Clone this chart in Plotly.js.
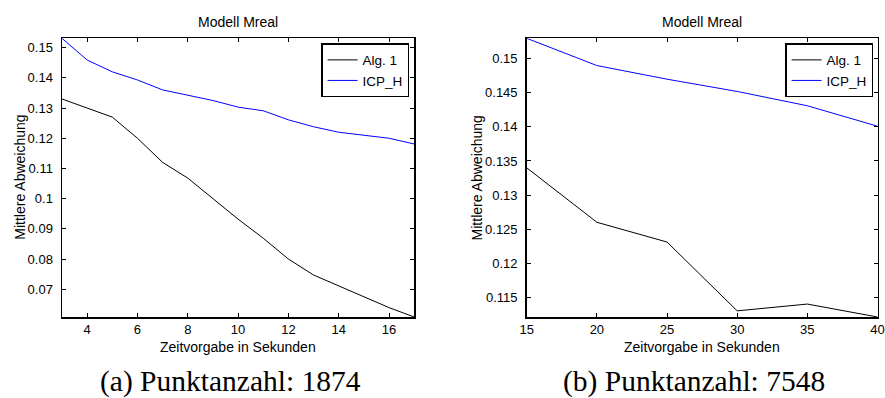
<!DOCTYPE html>
<html>
<head>
<meta charset="utf-8">
<script src="https://cdn.plot.ly/plotly-3.0.1.min.js"></script>
<style>html,body{margin:0;padding:0;background:#fff;}#chart{width:885px;height:398px;}</style>
</head>
<body>
<div id="chart"></div>
<script>
// (a) Punktanzahl: 1874
const xA = [3, 4, 5, 6, 7, 8, 9, 10, 11, 12, 13, 14, 15, 16, 17];
const algA = [0.133, 0.130, 0.127, 0.120, 0.112, 0.1068, 0.0999, 0.0932, 0.0869, 0.0800, 0.0747, 0.0711, 0.0674, 0.0639, 0.0608];
const icpA = [0.1531, 0.1459, 0.1420, 0.1393, 0.1360, 0.1342, 0.1325, 0.1303, 0.1291, 0.1261, 0.1238, 0.1220, 0.1211, 0.1200, 0.1181];
// (b) Punktanzahl: 7548
const xB = [15, 20, 25, 30, 35, 40];
const algB = [0.1340, 0.1260, 0.1231, 0.1130, 0.1140, 0.1121];
const icpB = [0.1530, 0.1490, 0.1470, 0.1452, 0.1431, 0.1401];

const seriesNames = ["Alg. 1", "ICP_H"];
const plotTitle = "Modell Mreal";
const xLabel = "Zeitvorgabe in Sekunden";
const yLabel = "Mittlere Abweichung";
const captions = ["(a) Punktanzahl: 1874", "(b) Punktanzahl: 7548"];
const xTicksA = [4, 6, 8, 10, 12, 14, 16];
const xTicksB = [15, 20, 25, 30, 35, 40];
const yTicksA = [0.07, 0.08, 0.09, 0.1, 0.11, 0.12, 0.13, 0.14, 0.15];
const yTicksB = [0.115, 0.12, 0.125, 0.13, 0.135, 0.14, 0.145, 0.15];

const W = 885, H = 398;
const font = "Liberation Sans, Arial, Helvetica, sans-serif";
const serif = "Liberation Serif, Times New Roman, serif";
const lineBlack = {color: "#000000", width: 1};
const lineBlue = {color: "#0000ff", width: 1};

const traces = [
  {x: xA, y: algA, name: seriesNames[0], mode: "lines", line: lineBlack, xaxis: "x", yaxis: "y", legend: "legend"},
  {x: xA, y: icpA, name: seriesNames[1], mode: "lines", line: lineBlue, xaxis: "x", yaxis: "y", legend: "legend"},
  {x: xB, y: algB, name: seriesNames[0], mode: "lines", line: lineBlack, xaxis: "x2", yaxis: "y2", legend: "legend2"},
  {x: xB, y: icpB, name: seriesNames[1], mode: "lines", line: lineBlue, xaxis: "x2", yaxis: "y2", legend: "legend2"}
];

const yDom = [1 - 317 / H, 1 - 38.3 / H];
const axCommon = {
  showline: true, linecolor: "#000", linewidth: 1.5, mirror: "ticks",
  ticks: "inside", ticklen: 4, tickcolor: "#000", tickwidth: 1,
  showgrid: false, zeroline: false, automargin: false,
  ticklabeloverflow: "allow",
  tickfont: {family: font, size: 13, color: "#000"}
};
function xax(dom, range, tv, anchor) {
  return Object.assign({}, axCommon, {
    domain: dom, range: range, tickvals: tv, anchor: anchor,
    ticklabelstandoff: 0
  });
}
function yax(range, tv, anchor) {
  return Object.assign({}, axCommon, {
    domain: yDom, range: range, tickvals: tv, anchor: anchor,
    ticklabelstandoff: 5
  });
}
const legendCommon = {
  bgcolor: "#fff", bordercolor: "#000", borderwidth: 1.3,
  font: {family: font, size: 13.5, color: "#000"},
  xanchor: "right", yanchor: "top", tracegroupgap: 0
};
function txt(text, px, py, size, fam, angle) {
  return {text: text, xref: "paper", yref: "paper", x: px / W, y: 1 - py / H,
    xanchor: "center", yanchor: "middle", showarrow: false, textangle: angle || 0,
    font: {family: fam, size: size, color: "#000"}};
}

const layout = {
  width: W, height: H,
  margin: {l: 0, r: 0, t: 0, b: 0},
  paper_bgcolor: "#fff", plot_bgcolor: "#fff",
  font: {family: font, color: "#000"},
  xaxis: xax([62 / W, 414.2 / W], [3, 17], xTicksA, "y"),
  yaxis: yax([0.0608, 0.1531], yTicksA, "x"),
  xaxis2: xax([526.7 / W, 877.5 / W], [15, 40], xTicksB, "y2"),
  yaxis2: yax([0.1121, 0.1530], yTicksB, "x2"),
  legend: Object.assign({}, legendCommon, {x: 409.3 / W, y: 1 - 43.3 / H}),
  legend2: Object.assign({}, legendCommon, {x: 873.3 / W, y: 1 - 43.3 / H}),
  annotations: [
    txt(plotTitle, 238, 22, 14, font),
    txt(plotTitle, 702, 22, 14, font),
    txt(xLabel, 238, 346.5, 14, font),
    txt(xLabel, 702, 346.5, 14, font),
    txt(yLabel, 20, 177.7, 14, font, -90),
    txt(yLabel, 476.7, 177.7, 14, font, -90),
    txt(captions[0], 230, 381, 29.5, serif),
    txt(captions[1], 694, 381, 29.5, serif)
  ],
  showlegend: true
};

Plotly.newPlot("chart", traces, layout, {displayModeBar: false, staticPlot: true});
</script>
</body>
</html>
